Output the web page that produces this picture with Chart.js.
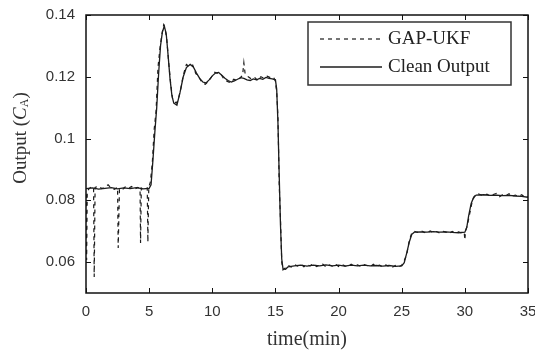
<!DOCTYPE html>
<html lang="en">
<head>
    <meta charset="UTF-8">
    <title>GAP-UKF vs Clean Output</title>
    <script src="https://cdn.jsdelivr.net/npm/chart.js"></script>
    <style>
        html, body { margin: 0; padding: 0; background: #fff; }
        #wrap { width: 535px; height: 354px; }
    </style>
</head>
<body>
<div id="wrap"><canvas id="output-chart" width="535" height="354"></canvas></div>

<script>
    // axis ticks
    const xTicks = [0, 5, 10, 15, 20, 25, 30, 35];
    const yTicks = [0.06, 0.08, 0.1, 0.12, 0.14];

    // Clean Output (solid)
    const cleanTime = [
        0, 0.5, 1, 1.5, 2, 2.5, 3, 3.5, 4, 4.5, 5,
        5.15, 5.3, 5.45, 5.6, 5.75, 5.9, 6.05, 6.2, 6.35, 6.5, 6.65, 6.8, 6.95,
        7.2, 7.45, 7.7, 7.95, 8.25, 8.5, 8.75, 9, 9.25, 9.5, 9.75, 10, 10.25, 10.5, 10.75,
        11, 11.25, 11.5, 11.75, 12, 12.25, 12.5, 12.75, 13, 13.25, 13.5, 13.75, 14, 14.25, 14.5, 14.75, 15,
        15.1, 15.2, 15.3, 15.4, 15.5, 15.6, 15.8, 16, 16.5, 17, 17.5, 18, 18.5, 19, 19.5, 20,
        20.5, 21, 21.5, 22, 22.5, 23, 23.5, 24, 24.5, 25,
        25.2, 25.4, 25.6, 25.8, 26, 26.5, 27, 27.5, 28, 28.5, 29, 29.5, 30,
        30.15, 30.3, 30.5, 30.7, 30.9, 31.5, 32, 32.5, 33, 33.5, 34, 34.5, 35
    ];
    const cleanValue = [
        0.0838, 0.0840, 0.0836, 0.0839, 0.0841, 0.0837, 0.0840, 0.0838, 0.0841, 0.0837, 0.0839,
        0.0850, 0.0930, 0.1020, 0.1100, 0.1210, 0.1300, 0.1345, 0.1364, 0.1340, 0.1270, 0.1195, 0.1140, 0.1115,
        0.1108, 0.1150, 0.1200, 0.1230, 0.1240, 0.1232, 0.1212, 0.1195, 0.1183, 0.1180, 0.1190, 0.1203, 0.1212, 0.1214, 0.1205,
        0.1195, 0.1188, 0.1183, 0.1187, 0.1192, 0.1197, 0.1195, 0.1190, 0.1188, 0.1193, 0.1190, 0.1195, 0.1192, 0.1198, 0.1195, 0.1193, 0.1190,
        0.1160, 0.1050, 0.0880, 0.0720, 0.0610, 0.0578, 0.0577, 0.0585, 0.0588, 0.0590, 0.0587, 0.0590, 0.0588, 0.0591, 0.0588, 0.0590,
        0.0587, 0.0590, 0.0588, 0.0590, 0.0588, 0.0589, 0.0587, 0.0589, 0.0586, 0.0588,
        0.0598, 0.0630, 0.0665, 0.0690, 0.0697, 0.0698, 0.0697, 0.0699, 0.0697, 0.0698, 0.0696, 0.0695, 0.0697,
        0.0712, 0.0750, 0.0790, 0.0810, 0.0817, 0.0818, 0.0816, 0.0817, 0.0815, 0.0816, 0.0814, 0.0813, 0.0810
    ];

    // GAP-UKF estimate (dashed)
    const ukfTime = [
        0, 0.05, 0.1, 0.25, 0.5, 0.6, 0.65, 0.72, 1, 1.25, 1.5, 1.75, 2, 2.25, 2.5, 2.55, 2.65,
        2.9, 3.1, 3.35, 3.6, 3.85, 4.1, 4.28, 4.32, 4.38, 4.6, 4.85, 4.9, 4.97,
        5.1, 5.25, 5.4, 5.55, 5.7, 5.85, 6, 6.15, 6.25, 6.4, 6.55, 6.7, 6.85, 7, 7.15, 7.3, 7.5, 7.7, 7.95,
        8.2, 8.45, 8.7, 8.95, 9.2, 9.45, 9.7, 9.95, 10.2, 10.45, 10.7, 10.95, 11.2, 11.45, 11.7, 11.95,
        12.2, 12.4, 12.5, 12.6, 12.85, 13.1, 13.35, 13.6, 13.85, 14.1, 14.35, 14.6, 14.85, 15,
        15.1, 15.2, 15.3, 15.4, 15.5, 15.6, 15.75, 16, 16.25, 16.5, 16.75, 17, 17.25, 17.5, 17.75,
        18, 18.25, 18.5, 18.75, 19, 19.25, 19.5, 19.75, 20, 20.25, 20.5, 20.75, 21, 21.25, 21.5, 21.75,
        22, 22.25, 22.5, 22.75, 23, 23.25, 23.5, 23.75, 24, 24.25, 24.5, 24.75, 25,
        25.2, 25.4, 25.6, 25.8, 26, 26.25, 26.5, 26.75, 27, 27.25, 27.5, 27.75, 28, 28.25, 28.5, 28.75,
        29, 29.25, 29.5, 29.75, 29.95, 30, 30.05, 30.2, 30.4, 30.6, 30.8, 31, 31.25, 31.5, 31.75,
        32, 32.25, 32.5, 32.75, 33, 33.25, 33.5, 33.75, 34, 34.25, 34.5, 34.75, 35
    ];
    const ukfValue = [
        0.0820, 0.0607, 0.0830, 0.0838, 0.0845, 0.0840, 0.0552, 0.0842, 0.0846, 0.0838, 0.0843, 0.0850, 0.0840, 0.0836, 0.0842, 0.0646, 0.0838,
        0.0835, 0.0843, 0.0838, 0.0845, 0.0836, 0.0842, 0.0838, 0.0662, 0.0840, 0.0835, 0.0840, 0.0665, 0.0842,
        0.0860, 0.0920, 0.1030, 0.1090, 0.1230, 0.1290, 0.1335, 0.1368, 0.1358, 0.1320, 0.1245, 0.1180, 0.1130, 0.1120, 0.1115, 0.1125, 0.1160, 0.1205, 0.1240,
        0.1232, 0.1238, 0.1210, 0.1198, 0.1180, 0.1176, 0.1185, 0.1200, 0.1215, 0.1210, 0.1208, 0.1190, 0.1185, 0.1180, 0.1192, 0.1188,
        0.1196, 0.1205, 0.1245, 0.1210, 0.1200, 0.1193, 0.1198, 0.1188, 0.1200, 0.1195, 0.1202, 0.1197, 0.1199, 0.1185,
        0.1150, 0.1070, 0.0850, 0.0740, 0.0600, 0.0575, 0.0580, 0.0590, 0.0584, 0.0592, 0.0587, 0.0594, 0.0585, 0.0591, 0.0588,
        0.0595, 0.0586, 0.0590, 0.0593, 0.0585, 0.0591, 0.0587, 0.0594, 0.0586, 0.0592, 0.0588, 0.0585, 0.0593, 0.0587, 0.0591, 0.0586,
        0.0592, 0.0589, 0.0585, 0.0593, 0.0587, 0.0590, 0.0584, 0.0591, 0.0586, 0.0583, 0.0589, 0.0584, 0.0590,
        0.0605, 0.0625, 0.0670, 0.0695, 0.0700, 0.0696, 0.0702, 0.0697, 0.0693, 0.0701, 0.0696, 0.0699, 0.0694, 0.0700, 0.0697, 0.0693,
        0.0699, 0.0695, 0.0698, 0.0694, 0.0696, 0.0672, 0.0700, 0.0720, 0.0760, 0.0800, 0.0815, 0.0822, 0.0818, 0.0815, 0.0820,
        0.0814, 0.0819, 0.0822, 0.0812, 0.0818, 0.0815, 0.0821, 0.0813, 0.0817, 0.0812, 0.0818, 0.0810, 0.0812
    ];

    const toPoints = (ts, vs) => ts.map((t, i) => ({ x: t, y: vs[i] }));

    const LINE = '#1c1c1c';
    const SERIF = '"Liberation Serif", "Times New Roman", serif';
    const SANS = '"Liberation Sans", Arial, sans-serif';

    // box, inward tick marks, legend, y-axis title
    const framePlugin = {
        id: 'frame',
        afterDraw(chart) {
            const { ctx, chartArea: a, scales } = chart;
            ctx.save();
            ctx.strokeStyle = '#111';
            ctx.lineWidth = 1.5;
            ctx.strokeRect(a.left, a.top, a.right - a.left, a.bottom - a.top);

            ctx.lineWidth = 1;
            ctx.beginPath();
            scales.x.ticks.forEach(t => {
                const px = Math.round(scales.x.getPixelForValue(t.value)) + 0.5;
                ctx.moveTo(px, a.bottom); ctx.lineTo(px, a.bottom - 5);
                ctx.moveTo(px, a.top); ctx.lineTo(px, a.top + 5);
            });
            scales.y.ticks.forEach(t => {
                const py = Math.round(scales.y.getPixelForValue(t.value)) + 0.5;
                ctx.moveTo(a.left, py); ctx.lineTo(a.left + 5, py);
                ctx.moveTo(a.right, py); ctx.lineTo(a.right - 5, py);
            });
            ctx.stroke();

            // legend
            const lx = 308, ly = 22, lw = 203, lh = 63;
            ctx.fillStyle = '#fff';
            ctx.fillRect(lx, ly, lw, lh);
            ctx.strokeStyle = '#333';
            ctx.lineWidth = 1.5;
            ctx.strokeRect(lx, ly, lw, lh);
            ctx.font = '19px ' + SERIF;
            ctx.textBaseline = 'middle';
            ctx.textAlign = 'left';
            chart.data.datasets.forEach((ds, i) => {
                const ry = ly + 17 + i * 28;
                ctx.strokeStyle = ds.borderColor;
                ctx.lineWidth = ds.borderWidth;
                ctx.setLineDash(ds.borderDash || []);
                ctx.beginPath();
                ctx.moveTo(320, ry); ctx.lineTo(382, ry);
                ctx.stroke();
                ctx.setLineDash([]);
                ctx.fillStyle = '#222';
                ctx.fillText(ds.label, 388, ry);
            });

            // y title: Output (C_A)
            ctx.translate(21, 138);
            ctx.rotate(-Math.PI / 2);
            ctx.fillStyle = '#333';
            const parts = [
                { t: 'Output (', f: '19px ' + SERIF, dy: 0 },
                { t: 'C', f: 'italic 19px ' + SERIF, dy: 0 },
                { t: 'A', f: '12px ' + SERIF, dy: 4 },
                { t: ')', f: '19px ' + SERIF, dy: 0 }
            ];
            let total = 0;
            parts.forEach(p => { ctx.font = p.f; p.w = ctx.measureText(p.t).width; total += p.w; });
            let cx = -total / 2;
            parts.forEach(p => {
                ctx.font = p.f;
                ctx.fillText(p.t, cx, p.dy);
                cx += p.w;
            });
            ctx.restore();
        }
    };

    new Chart(document.getElementById('output-chart'), {
        type: 'line',
        data: {
            datasets: [{
                label: 'GAP-UKF',
                data: toPoints(ukfTime, ukfValue),
                borderColor: LINE,
                borderWidth: 1.2,
                borderDash: [4, 4],
                pointRadius: 0,
                tension: 0
            }, {
                label: 'Clean Output',
                data: toPoints(cleanTime, cleanValue),
                borderColor: LINE,
                borderWidth: 1.3,
                pointRadius: 0,
                tension: 0
            }]
        },
        options: {
            responsive: false,
            animation: false,
            layout: { padding: { top: 15, right: 7, left: 0, bottom: 0 } },
            plugins: {
                legend: { display: false },
                tooltip: { enabled: false }
            },
            scales: {
                x: {
                    type: 'linear',
                    min: 0,
                    max: 35,
                    afterBuildTicks: s => { s.ticks = xTicks.map(v => ({ value: v })); },
                    afterFit: s => { s.height = 61; s.paddingLeft = 0; s.paddingRight = 0; },
                    grid: { display: false, drawTicks: false },
                    border: { display: false },
                    ticks: {
                        padding: 10,
                        color: '#333',
                        font: { family: SANS, size: 15 },
                        callback: v => String(v)
                    },
                    title: {
                        display: true,
                        text: 'time(min)',
                        color: '#333',
                        font: { family: SERIF, size: 20 },
                        padding: { top: 0, bottom: 2 }
                    }
                },
                y: {
                    min: 0.05,
                    max: 0.14,
                    afterBuildTicks: s => { s.ticks = yTicks.map(v => ({ value: v })); },
                    afterFit: s => { s.width = 86; s.paddingTop = 0; s.paddingBottom = 0; },
                    grid: { display: false, drawTicks: false },
                    border: { display: false },
                    ticks: {
                        padding: 11,
                        color: '#333',
                        font: { family: SANS, size: 15 },
                        callback: v => String(v)
                    }
                }
            }
        },
        plugins: [framePlugin]
    });
</script>
</body>
</html>
